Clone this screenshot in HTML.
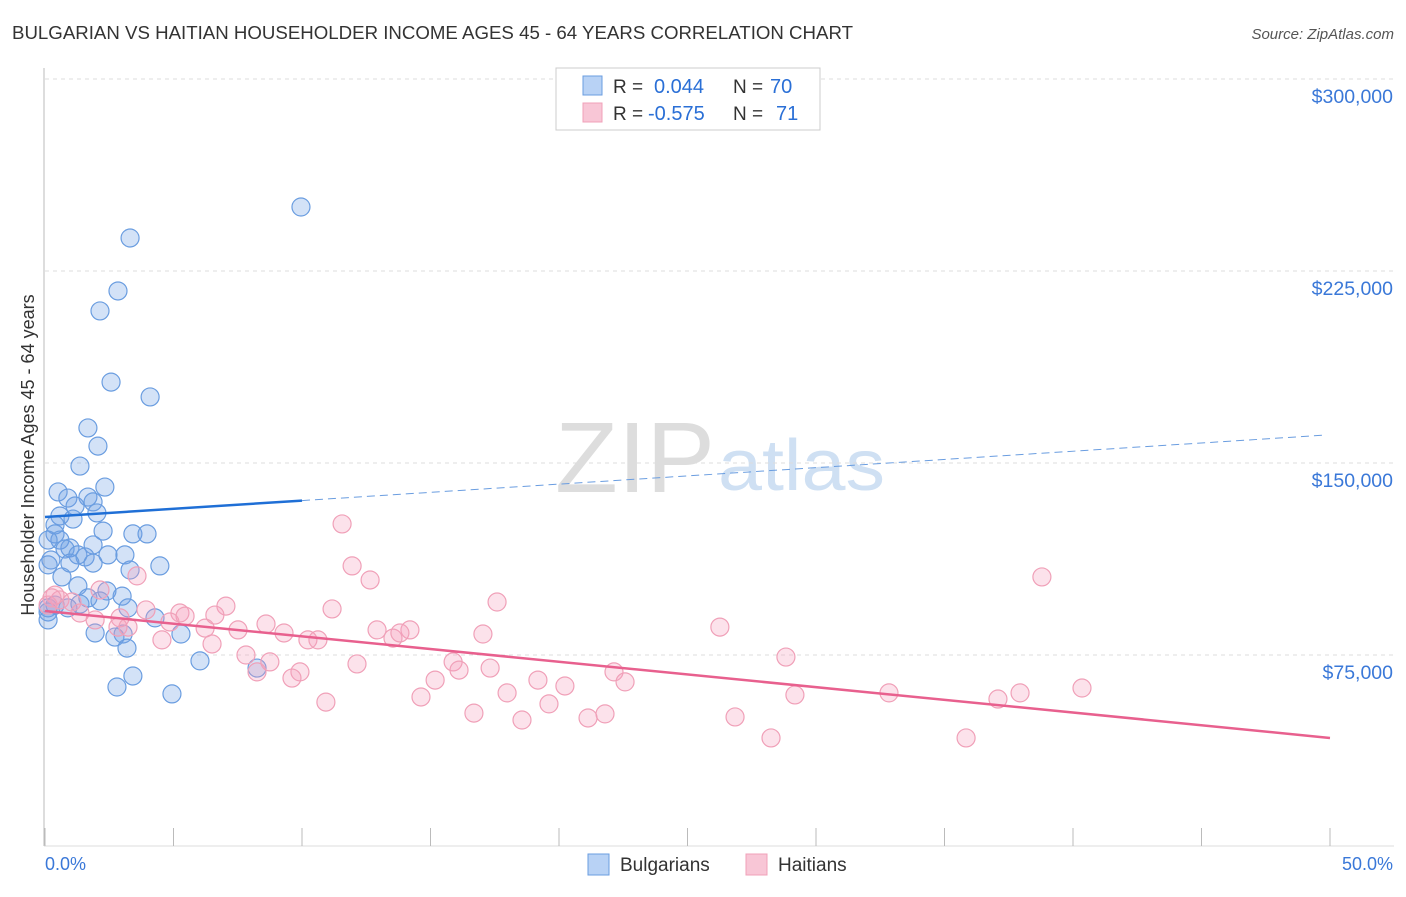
<!DOCTYPE html>
<html><head><meta charset="utf-8"><style>
body{margin:0;background:#fff;font-family:"Liberation Sans",sans-serif;}
svg text{font-family:"Liberation Sans",sans-serif;}
</style></head><body>
<svg id="c" width="1406" height="892">
<text x="12" y="39" font-size="18" fill="#333" textLength="841" lengthAdjust="spacingAndGlyphs">BULGARIAN VS HAITIAN HOUSEHOLDER INCOME AGES 45 - 64 YEARS CORRELATION CHART</text>
<text x="1394" y="39" font-size="15" fill="#555" text-anchor="end" font-style="italic">Source: ZipAtlas.com</text>
<text x="555" y="492" font-size="100" fill="#ddd" textLength="160" lengthAdjust="spacingAndGlyphs" font-family="Liberation Serif">ZIP</text>
<text x="718" y="490" font-size="72" fill="#cfe0f3" textLength="167" lengthAdjust="spacingAndGlyphs">atlas</text>
<text transform="translate(34,455) rotate(-90)" font-size="18" fill="#333" text-anchor="middle">Householder Income Ages 45 - 64 years</text>
<g id="grid"></g><g id="marks"></g>
<g>
<rect x="556" y="68" width="264" height="62" fill="#fff" stroke="#ccc"/>
<rect x="583" y="76" width="19" height="19" fill="#b8d2f5" stroke="#6a9de0"/>
<rect x="583" y="103" width="19" height="19" fill="#f8c6d6" stroke="#f0a0b8"/>
<text x="613" y="93" font-size="19" fill="#333">R =</text>
<text x="654" y="93" font-size="20" fill="#2a6fd6">0.044</text>
<text x="733" y="93" font-size="19" fill="#333">N =</text>
<text x="770" y="93" font-size="20" fill="#2a6fd6">70</text>
<text x="613" y="120" font-size="19" fill="#333">R =</text>
<text x="648" y="120" font-size="20" fill="#2a6fd6">-0.575</text>
<text x="733" y="120" font-size="19" fill="#333">N =</text>
<text x="776" y="120" font-size="20" fill="#2a6fd6">71</text>
</g>
<g>
<rect x="588" y="854" width="21" height="21" fill="#b8d2f5" stroke="#6a9de0"/>
<text x="620" y="871" font-size="19" fill="#333">Bulgarians</text>
<rect x="746" y="854" width="21" height="21" fill="#f8c6d6" stroke="#f0a0b8"/>
<text x="778" y="871" font-size="19" fill="#333">Haitians</text>
</g>
<text x="45" y="870" font-size="18" fill="#3a78d8">0.0%</text>
<text x="1393" y="870" font-size="18" fill="#3a78d8" text-anchor="end">50.0%</text>
</svg>
<script>
const yTicks=[75,150,225,300];
const yTickLabels=["$75,000","$150,000","$225,000","$300,000"];
const blueX=[];const blueY=[];const pinkX=[];const pinkY=[];
const bluePts=[[301,207],[130,238],[118,291],[100,311],[111,382],[150,397],[88,428],[98,446],[80,466],[105,487],[58,492],[68,498],[88,497],[75,506],[93,502],[97,513],[60,516],[73,519],[55,525],[103,531],[133,534],[147,534],[55,534],[60,540],[48,540],[70,548],[93,545],[65,549],[78,555],[85,557],[108,555],[125,555],[51,560],[70,563],[93,563],[62,577],[48,565],[160,566],[130,570],[78,586],[107,591],[88,598],[80,604],[122,596],[128,608],[100,601],[68,608],[48,608],[55,605],[155,618],[95,633],[115,637],[123,634],[181,634],[127,648],[200,661],[257,668],[117,687],[133,676],[172,694],[48,612],[48,620]];
const pinkPts=[[342,524],[352,566],[370,580],[1042,577],[137,576],[497,602],[332,609],[226,606],[146,610],[215,615],[180,613],[185,616],[170,622],[95,620],[120,618],[60,600],[55,595],[72,602],[80,613],[100,590],[118,627],[128,627],[205,628],[238,630],[266,624],[284,633],[377,630],[393,638],[410,630],[400,633],[483,634],[720,627],[308,640],[318,640],[162,640],[212,644],[246,655],[270,662],[300,672],[357,664],[257,672],[292,678],[453,662],[459,670],[435,680],[490,668],[614,672],[625,682],[786,657],[538,680],[565,686],[421,697],[507,693],[549,704],[326,702],[474,713],[522,720],[588,718],[605,714],[735,717],[771,738],[795,695],[889,693],[998,699],[1020,693],[1082,688],[966,738],[48,605],[52,598]];
bluePts.forEach(p=>{blueX.push(+((p[0]-45)/1285*50).toFixed(2));blueY.push(+((847-p[1])*0.390625).toFixed(1));});
pinkPts.forEach(p=>{pinkX.push(+((p[0]-45)/1285*50).toFixed(2));pinkY.push(+((847-p[1])*0.390625).toFixed(1));});
const blueTrend=[128.9,160.9];const pinkTrend=[92.2,42.6];
const NS="http://www.w3.org/2000/svg";
const sx=v=>45+v/50*1285, sy=v=>847-v*192/75;
function mk(t,a,parent){const e=document.createElementNS(NS,t);for(const k in a)e.setAttribute(k,a[k]);parent.appendChild(e);return e;}
const grid=document.getElementById('grid'),marks=document.getElementById('marks');
const ax=mk('line',{x1:44,y1:68,x2:44,y2:846,stroke:'#bbb'},grid);


const bx=mk('line',{x1:44,y1:846,x2:1394,y2:846,stroke:'#ddd'},grid);


yTicks.forEach((t,i)=>{
 const g=mk('line',{x1:45,x2:1394,y1:sy(t),y2:sy(t),stroke:'#ddd','stroke-dasharray':'4,4'},grid);
 
 
 const tx=mk('text',{x:1393,y:sy(t)+24,'font-size':19.5,fill:'#3a78d8','text-anchor':'end'},grid);
 tx.textContent=yTickLabels[i];
 
 
});
for(let i=0;i<=10;i++){const l=mk('line',{x1:sx(i*5),x2:sx(i*5),y1:828,y2:846,stroke:'#bbb'},grid);
 
 }
blueX.forEach((x,i)=>{const c=mk('circle',{cx:sx(x),cy:sy(blueY[i]),r:9,fill:'rgba(110,160,230,0.3)',stroke:'#6a9de0','stroke-width':1.2},marks);
 
 });
pinkX.forEach((x,i)=>{const c=mk('circle',{cx:sx(x),cy:sy(pinkY[i]),r:9,fill:'rgba(245,160,190,0.3)',stroke:'#f0a0b8','stroke-width':1.2},marks);
 
 });
const bv=x=>blueTrend[0]+(blueTrend[1]-blueTrend[0])*x/49.8;
const t1=mk('line',{x1:sx(0),y1:sy(bv(0)),x2:sx(10),y2:sy(bv(10)),stroke:'#1f6fd6','stroke-width':2.5},marks);


const t2=mk('line',{x1:sx(10),y1:sy(bv(10)),x2:sx(49.8),y2:sy(bv(49.8)),stroke:'#6a9de0','stroke-width':1,'stroke-dasharray':'8,5'},marks);


const t3=mk('line',{x1:sx(0),y1:sy(pinkTrend[0]),x2:sx(50),y2:sy(pinkTrend[1]),stroke:'#e8608e','stroke-width':2.5},marks);


</script>
</body></html>
